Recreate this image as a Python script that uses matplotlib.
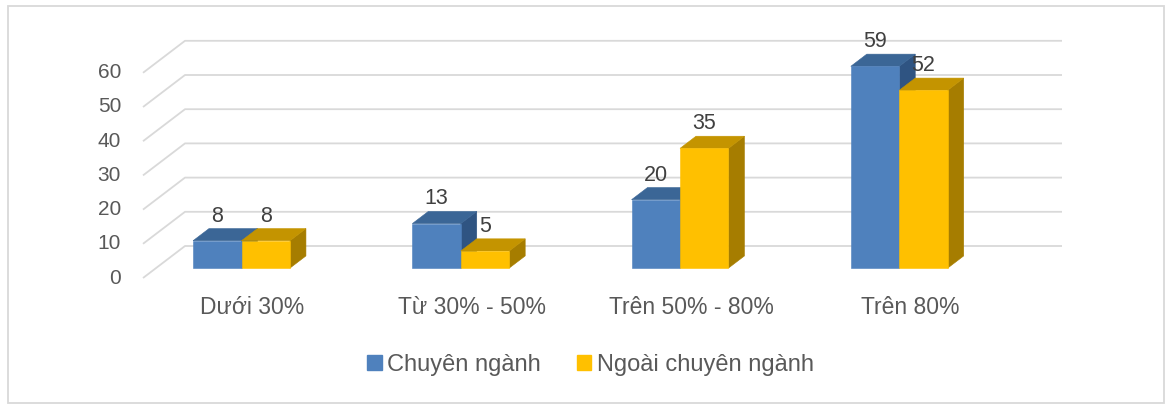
import matplotlib
matplotlib.use("Agg")
import matplotlib.pyplot as plt
from matplotlib.patches import Polygon, Patch, Rectangle

plt.rcParams["font.family"] = ["Liberation Sans", "DejaVu Sans"]

# ── data ─────────────────────────────────────────────────────────
categories = ["Dưới 30%", "Từ 30% - 50%", "Trên 50% - 80%", "Trên 80%"]
series_names = ["Chuyên ngành", "Ngoài chuyên ngành"]
chuyen_nganh = [8, 13, 20, 59]
ngoai_chuyen_nganh = [8, 5, 35, 52]
y_ticks = [0, 10, 20, 30, 40, 50, 60]

# ── style ────────────────────────────────────────────────────────
FRONT = ["#4F81BD", "#FFC000"]
TOP = ["#3B6696", "#C49400"]
SIDE = ["#2F5482", "#A67D00"]
GRID = "#D9D9D9"
TXT = "#595959"

W, H = 1166, 404
PX_X = 219.25   # pixels per category
PX_Y = 3.42     # pixels per value unit
X0, Y0 = 143, 278   # front-left corner of the floor (pixels)

# oblique depth: full depth = 42 px right, 32 px up
DX = 42 / PX_X
DV = 32 / PX_Y
D_FRONT, D_BACK = 0.31, 0.69
BAR_START = 0.169
BAR_W = 0.221


def proj(x, v, d):
    return (x + d * DX, v + d * DV)


fig = plt.figure(figsize=(W / 100, H / 100), dpi=100)
ax = fig.add_axes([0, 0, 1, 1])
ax.set_xlim(-X0 / PX_X, (W - X0) / PX_X)
ax.set_ylim(-(H - Y0) / PX_Y, Y0 / PX_Y)
ax.axis("off")

# outer border
fig.patches.append(Rectangle((7.5 / W, 1.5 / H), (1163.5 - 7.5) / W, (398.5 - 1.5) / H,
                             transform=fig.transFigure, fill=False,
                             edgecolor=GRID, linewidth=1.3))

# gridlines: left diagonal + back wall
n_cat = len(categories)
for v in y_ticks:
    p0 = proj(0, v, 0)
    p1 = proj(0, v, 1)
    p2 = proj(n_cat, v, 1)
    ax.plot([p0[0], p1[0], p2[0]], [p0[1], p1[1], p2[1]],
            color=GRID, linewidth=1.3, zorder=1, solid_capstyle="butt")
    ax.text(-0.10, v, str(v), ha="right", va="center", fontsize=15, color=TXT)


def draw_bar(x, val, s):
    xl, xr = x, x + BAR_W
    front = [proj(xl, 0, D_FRONT), proj(xr, 0, D_FRONT),
             proj(xr, val, D_FRONT), proj(xl, val, D_FRONT)]
    top = [proj(xl, val, D_FRONT), proj(xr, val, D_FRONT),
           proj(xr, val, D_BACK), proj(xl, val, D_BACK)]
    side = [proj(xr, 0, D_FRONT), proj(xr, 0, D_BACK),
            proj(xr, val, D_BACK), proj(xr, val, D_FRONT)]
    for poly, col in ((side, SIDE[s]), (top, TOP[s]), (front, FRONT[s])):
        ax.add_patch(Polygon(poly, closed=True, facecolor=col,
                             edgecolor=col, linewidth=0.4, zorder=3))
    lx, ly = proj(xl + BAR_W / 2, val, D_FRONT)
    ly = val + D_BACK * DV + 12.5 / PX_Y
    ax.text(lx, ly, str(val), ha="center", va="center", fontsize=15.5,
            color="#404040", zorder=4)


for k in range(n_cat):
    for s, vals in enumerate((chuyen_nganh, ngoai_chuyen_nganh)):
        draw_bar(k + BAR_START + s * BAR_W, vals[k], s)
    ax.text(k + 0.5, -(307 - Y0) / PX_Y, categories[k], ha="center",
            va="center", fontsize=16.5, color=TXT)

handles = [Patch(facecolor=FRONT[i], edgecolor=FRONT[i], label=series_names[i])
           for i in range(2)]
leg = ax.legend(handles=handles, ncol=2, loc="center",
                bbox_to_anchor=(590.5 / W, 1 - 365 / H), frameon=False,
                fontsize=17, handlelength=0.6, handleheight=0.6,
                handletextpad=0.25, columnspacing=1.5, borderpad=0)
for t in leg.get_texts():
    t.set_color(TXT)

fig.savefig("out.png", dpi=100)
